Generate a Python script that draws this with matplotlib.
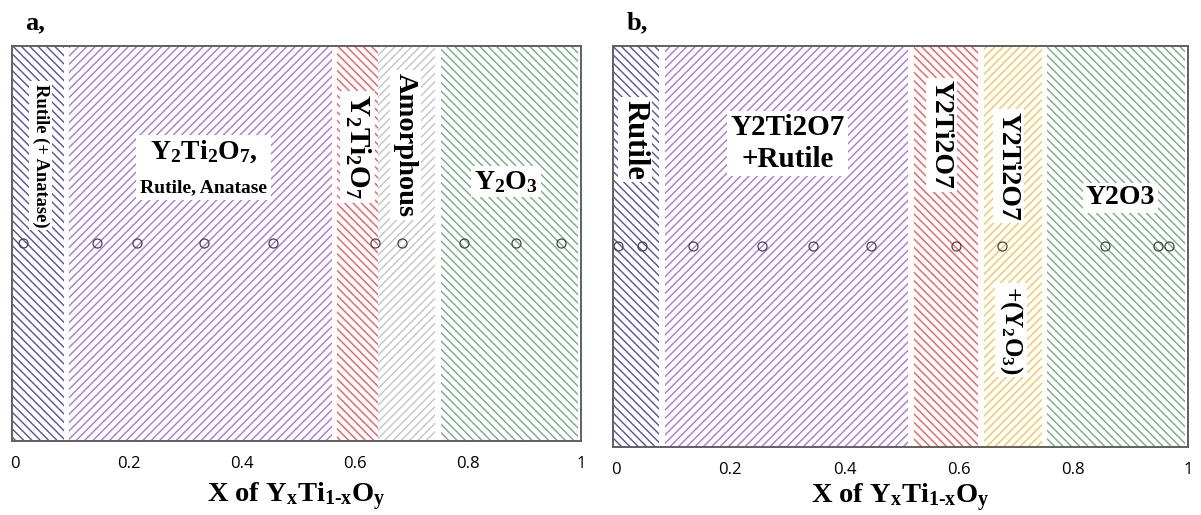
import matplotlib
matplotlib.use('Agg')
from matplotlib import pyplot as plt
from matplotlib.patches import Rectangle
from matplotlib.transforms import Bbox

plt.rcParams['mathtext.fontset'] = 'custom'
plt.rcParams['mathtext.rm'] = 'Liberation Serif:bold'
plt.rcParams['mathtext.it'] = 'Liberation Serif:bold'
plt.rcParams['mathtext.bf'] = 'Liberation Serif:bold'
plt.rcParams['hatch.linewidth'] = 1.0

tick_values = [0, 0.2, 0.4, 0.6, 0.8, 1]
tick_labels = ['0', '0.2', '0.4', '0.6', '0.8', '1']

# panel a: phase regions and measured compositions
a_starts = [-0.006, 0.095, 0.569, 0.641, 0.752]
a_ends = [0.086, 0.559, 0.641, 0.742, 0.995]
a_samples = [0.013, 0.144, 0.214, 0.334, 0.455, 0.635, 0.684, 0.793, 0.884, 0.964]

# panel b
b_starts = [-0.006, 0.085, 0.521, 0.643, 0.754]
b_ends = [0.075, 0.511, 0.633, 0.745, 0.995]
b_samples = [0.004, 0.045, 0.134, 0.256, 0.344, 0.446, 0.594, 0.675, 0.856, 0.948, 0.967]

SERIF = 'Liberation Serif'
BOX = dict(facecolor='white', edgecolor='none', pad=2)


def draw_panel(ax, starts, ends, colors, hatches, samples, labelpad):
    for s, e, c, h in zip(starts, ends, colors, hatches):
        ax.axvspan(s, e, facecolor='white', edgecolor=c, hatch=h, linewidth=0)
    ax.plot(samples, [0.5] * len(samples), 'o', mfc='none', mec='#444444', ms=6.5, mew=0.9)
    ax.set_xlim(-0.006, 0.995)
    ax.set_ylim(0, 1)
    ax.set_yticks([])
    ax.set_xticks(tick_values)
    ax.set_xticklabels(tick_labels, family='Open Sans', fontsize=12)
    ax.tick_params(axis='x', length=0, pad=11)
    for sp in ax.spines.values():
        sp.set_color('#606060')
        sp.set_linewidth(1.4)
    ax.set_xlabel(r'X of Y$_\mathrm{x}$Ti$_\mathrm{1\text{-}x}$O$_\mathrm{y}$',
                  family=SERIF, weight='bold', fontsize=20.5, labelpad=labelpad)


def label(ax, x, y, s, size, rot=0, ls=1.2, box=True):
    return ax.text(x, y, s, transform=ax.get_xaxis_transform(), ha='center', va='center',
                   family=SERIF, weight='bold', fontsize=size, rotation=rot,
                   bbox=BOX if box else None, linespacing=ls, multialignment='center')


fig = plt.figure(figsize=(12.01, 5.15), dpi=100)
ax_a = fig.add_axes([0.010, 0.144, 0.474, 0.767])
ax_b = fig.add_axes([0.510, 0.132, 0.479, 0.779])

hatches = ['\\\\\\\\', '////', '\\\\\\\\', '////', '\\\\\\\\']
draw_panel(ax_a, a_starts, a_ends,
           ['#5252a0', '#a878d6', '#f25c5c', '#c4c4c4', '#74ab83'], hatches, a_samples, 6)
draw_panel(ax_b, b_starts, b_ends,
           ['#5252a0', '#a878d6', '#f25c5c', '#f6c45a', '#74ab83'], hatches, b_samples, 2)

label(ax_a, 0.045, 0.722, 'Rutile (+ Anatase)', 13.3, -90)
t1 = label(ax_a, 0.332, 0.732, r'Y$_2$Ti$_2$O$_7$,', 20, box=False)
t2 = label(ax_a, 0.332, 0.640, 'Rutile, Anatase', 14, box=False)
label(ax_a, 0.605, 0.744, r'Y$_2$Ti$_2$O$_7$', 21, -90)
label(ax_a, 0.689, 0.749, 'Amorphous', 20.5, -90)
label(ax_a, 0.867, 0.656, r'Y$_2$O$_3$', 20)

label(ax_b, 0.033, 0.766, 'Rutile', 22, -90)
label(ax_b, 0.300, 0.757, 'Y2Ti2O7\n+Rutile', 21, ls=1.25)
label(ax_b, 0.569, 0.778, 'Y2Ti2O7', 20, -90)
label(ax_b, 0.686, 0.700, 'Y2Ti2O7', 20, -90)
label(ax_b, 0.691, 0.292, r'+(Y$_2$O$_3$)', 18, -90)
label(ax_b, 0.882, 0.621, 'Y2O3', 20)

fig.text(0.021, 0.955, 'a,', family=SERIF, weight='bold', fontsize=19, va='center')
fig.text(0.522, 0.955, 'b,', family=SERIF, weight='bold', fontsize=19, va='center')

# one white box behind the two-line label of the big purple region
fig.canvas.draw()
r = fig.canvas.get_renderer()
bb = Bbox.union([t1.get_window_extent(r), t2.get_window_extent(r)]).expanded(1.06, 1.12)
bb = bb.transformed(ax_a.transAxes.inverted())
ax_a.add_patch(Rectangle((bb.x0, bb.y0), bb.width, bb.height, transform=ax_a.transAxes,
                         facecolor='white', edgecolor='none', zorder=2.5))

fig.savefig('out.png', dpi=100)
